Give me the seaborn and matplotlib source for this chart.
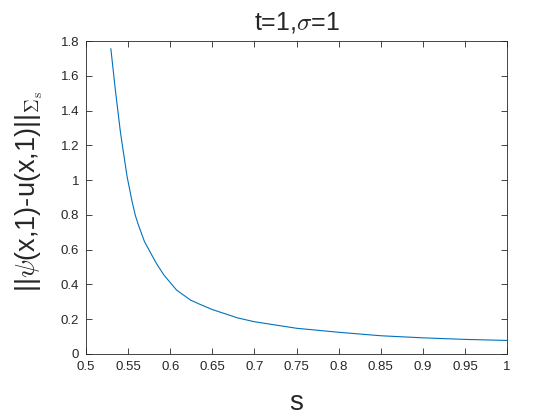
import numpy as np
import pandas as pd
import matplotlib
matplotlib.use("Agg")
import matplotlib.pyplot as plt
import seaborn as sns

# values
s_vals = [0.5295, 0.5349, 0.5408, 0.5438, 0.5488, 0.5548, 0.5587, 0.5626,
          0.5694, 0.5807, 0.5845, 0.5924, 0.6075, 0.6242, 0.6361, 0.6498,
          0.6798, 0.6995, 0.750, 0.800, 0.850, 0.900, 0.950, 1.000]
err_vals = [1.756, 1.517, 1.279, 1.181, 1.020, 0.875, 0.795, 0.737,
            0.647, 0.546, 0.514, 0.455, 0.368, 0.310, 0.284, 0.256,
            0.208, 0.186, 0.148, 0.125, 0.105, 0.093, 0.084, 0.078]
x_ticks = [0.5, 0.55, 0.6, 0.65, 0.7, 0.75, 0.8, 0.85, 0.9, 0.95, 1]
x_tick_labels = ["0.5", "0.55", "0.6", "0.65", "0.7", "0.75", "0.8", "0.85", "0.9", "0.95", "1"]
y_ticks = [0, 0.2, 0.4, 0.6, 0.8, 1, 1.2, 1.4, 1.6, 1.8]
y_tick_labels = ["0", "0.2", "0.4", "0.6", "0.8", "1", "1.2", "1.4", "1.6", "1.8"]

sns.set_style("ticks")
plt.rcParams["font.family"] = ["Liberation Sans", "DejaVu Sans"]
plt.rcParams["mathtext.fontset"] = "cm"

df = pd.DataFrame({"s": s_vals, "err": err_vals})

fig = plt.figure(figsize=(5.6, 4.2), dpi=100)
ax = fig.add_axes([86 / 560, 1 - 354 / 420, (507 - 86) / 560, (354 - 41) / 420])
sns.lineplot(data=df, x="s", y="err", ax=ax, color="#0072BD", linewidth=0.8)

ax.set_xlim(0.5, 1)
ax.set_ylim(0, 1.8)
ax.set_xticks(x_ticks)
ax.set_xticklabels(x_tick_labels)
ax.set_yticks(y_ticks)
ax.set_yticklabels(y_tick_labels)
ax.tick_params(direction="in", length=4, width=0.6, top=True, right=True,
               labelsize=9.5, colors="#262626", pad=5)
for sp in ax.spines.values():
    sp.set_visible(True)
    sp.set_linewidth(0.6)
    sp.set_color("#262626")

ax.set_title(r"t=1,$\sigma$=1", fontsize=18, pad=8)
ax.set_xlabel("s", fontsize=20, labelpad=12)
ax.set_ylabel(r"||$\psi$(x,1)-u(x,1)||$_{\Sigma_{\rm s}}$", fontsize=19.5)
ax.yaxis.set_label_coords(-0.097, 0.52)

fig.savefig("out.png", dpi=100)
